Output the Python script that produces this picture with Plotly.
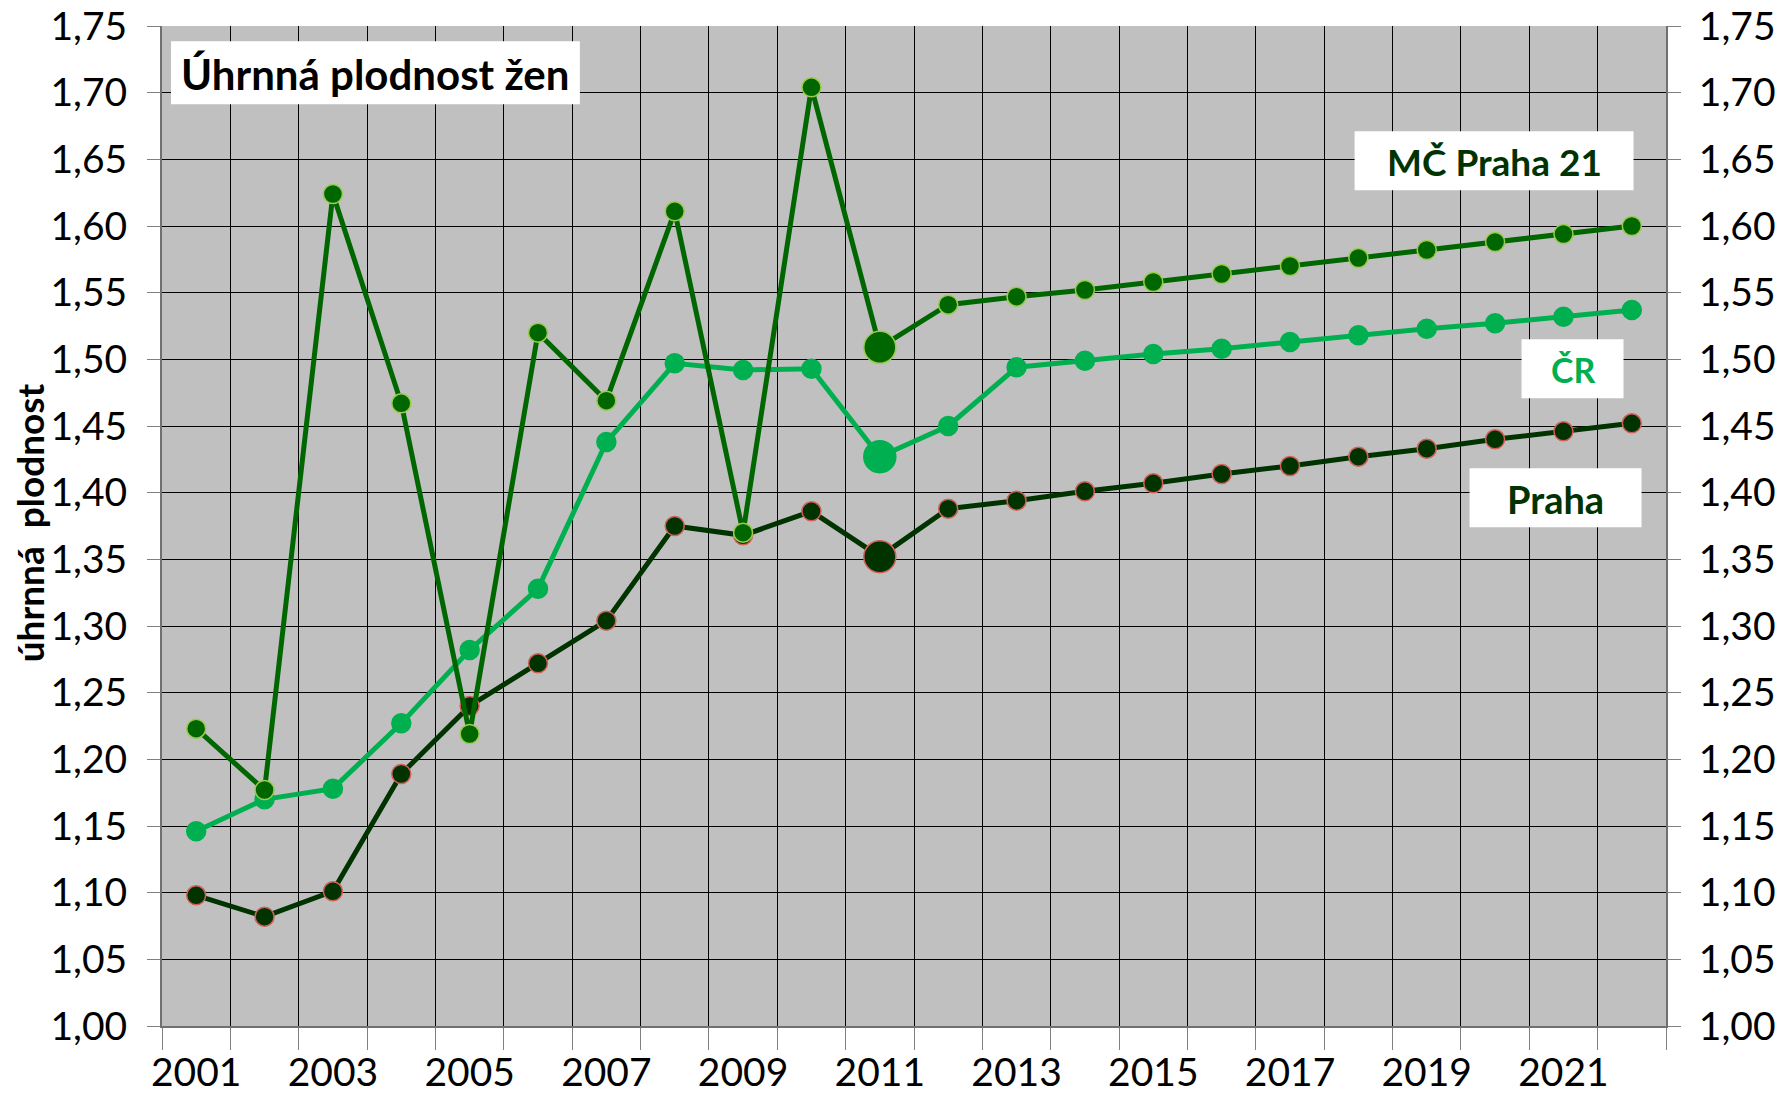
import plotly.graph_objects as go

years = list(range(2001, 2023))
label_years = list(range(2001, 2022, 2))
mc_praha21 = [1.223, 1.177, 1.624, 1.467, 1.219, 1.520, 1.469, 1.611, 1.370, 1.704, 1.509,
              1.541, 1.547, 1.552, 1.558, 1.564, 1.570, 1.576, 1.582, 1.588, 1.594, 1.600]
cr = [1.146, 1.170, 1.178, 1.227, 1.282, 1.328, 1.438, 1.497, 1.492, 1.493, 1.427,
      1.450, 1.494, 1.499, 1.504, 1.508, 1.513, 1.518, 1.523, 1.527, 1.532, 1.537]
praha = [1.098, 1.082, 1.101, 1.189, 1.240, 1.272, 1.304, 1.375, 1.368, 1.386, 1.352,
         1.388, 1.394, 1.401, 1.407, 1.414, 1.420, 1.427, 1.433, 1.440, 1.446, 1.452]
highlight_year = 2011

W, H = 1780, 1095
L, R = 162, 1666.5
T, B = 25.7, 1025.7
FONT = "Lato"

def px(x):
    return (x - L) / (R - L)

def py(y):
    return (B - y) / (B - T)

sizes = [32 if y == highlight_year else 19 for y in years]

fig = go.Figure()
series = [
    ("Praha", praha, "#003300", "#D0605A"),
    ("ČR", cr, "#00B050", "#00B050"),
    ("MČ Praha 21", mc_praha21, "#006600", "#9BCB4A"),
]
for name, vals, col, edge in series:
    fig.add_trace(go.Scatter(
        x=years, y=vals, name=name, mode="lines+markers",
        line=dict(color=col, width=5),
        marker=dict(size=sizes, color=col, opacity=1, line=dict(color=edge, width=1.5)),
        showlegend=False,
    ))
# invisible trace to anchor the right axis
fig.add_trace(go.Scatter(x=years, y=praha, yaxis="y2", mode="lines",
                         line=dict(width=0), opacity=0, hoverinfo="skip",
                         showlegend=False))

xtickfont = dict(family=FONT, size=39, color="black")
ytickfont = dict(family=FONT, size=39, color="black")
fig.update_layout(
    width=W, height=H,
    margin=dict(l=L, r=W - R, t=T, b=H - B, pad=0, autoexpand=False),
    paper_bgcolor="white", plot_bgcolor="#C0C0C0",
    separators=", ",
    font=dict(family=FONT, color="black"),
    xaxis=dict(
        range=[2000.5, 2022.5], tickvals=label_years, ticktext=[str(y) for y in label_years],
        ticks="", showgrid=False, zeroline=False, tickfont=xtickfont, automargin=False,
        showline=True, linecolor="#707070", linewidth=2, ticklabelstandoff=11,
        minor=dict(tickvals=[y - 0.5 for y in years] + [years[-1] + 0.5],
                   ticks="outside", ticklen=22, tickcolor="#808080", tickwidth=1,
                   showgrid=True, gridcolor="black", gridwidth=1),
    ),
    yaxis=dict(
        range=[1.0, 1.75], dtick=0.05, tickformat=".2f", tickfont=ytickfont,
        ticks="outside", ticklen=13, tickcolor="#808080", tickwidth=1, automargin=False,
        showgrid=True, gridcolor="black", gridwidth=1, zeroline=False,
        showline=True, linecolor="#707070", linewidth=2, ticklabelstandoff=12,
    ),
    yaxis2=dict(
        range=[1.0, 1.75], dtick=0.05, tickformat=".2f", tickfont=ytickfont,
        overlaying="y", side="right", matches="y", automargin=False,
        ticks="outside", ticklen=13, tickcolor="#808080", tickwidth=1,
        showgrid=False, zeroline=False,
        showline=True, linecolor="#707070", linewidth=2, ticklabelstandoff=10,
    ),
)

boxes = [
    ("Úhrnná plodnost žen", 171, 580, 41, 104, "black", 42),
    ("MČ Praha 21", 1355, 1634, 131, 190, "#003300", 37),
    ("ČR", 1522, 1624, 339, 398, "#00B050", 34),
    ("Praha", 1470, 1642, 468, 527, "#003300", 38),
]
for text, x0, x1, y0, y1, col, fs in boxes:
    fig.add_shape(type="rect", xref="paper", yref="paper",
                  x0=px(x0), x1=px(x1), y0=py(y1), y1=py(y0),
                  fillcolor="white", line=dict(width=0), layer="above")
    fig.add_annotation(text=f"<b>{text}</b>", xref="paper", yref="paper",
                       x=px((x0 + x1) / 2), y=py((y0 + y1) / 2 + 1),
                       xanchor="center", yanchor="middle", showarrow=False,
                       font=dict(family=FONT, size=fs, color=col))

fig.add_annotation(text="<b>úhrnná  plodnost</b>", xref="paper", yref="paper",
                   x=px(29), y=py(523), xanchor="center", yanchor="middle",
                   textangle=-90, showarrow=False,
                   font=dict(family=FONT, size=37, color="black"))

fig.write_html("out.html", config={"displayModeBar": False},
               post_script="document.body.style.margin='0';")
